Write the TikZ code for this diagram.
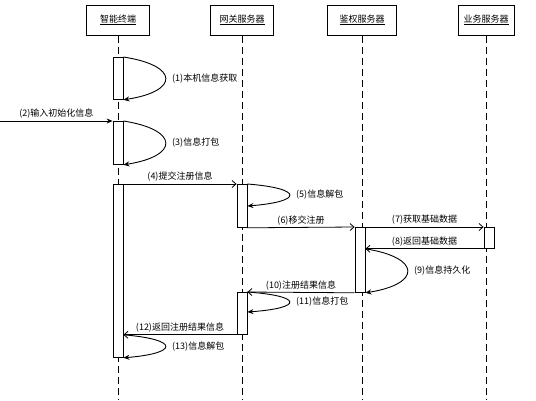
\documentclass[tikz,border=0pt]{standalone}
\usepackage{fontspec}
\setmainfont{Noto Sans CJK SC}
\usetikzlibrary{arrows.meta,calc}

\begin{document}
\begin{tikzpicture}[x=1pt, y=-1pt,
  font=\small,
  head/.style={draw, line width=1pt, minimum width=63pt, minimum height=30pt, inner sep=2pt},
  act/.style={draw, fill=white, line width=0.8pt, minimum width=10pt, inner sep=0pt, anchor=north},
  life/.style={dash pattern=on 7pt off 4pt, line width=0.9pt},
  msg/.style={-{Straight Barb[length=4pt, width=7pt]}, line width=0.8pt},
  self/.style={-{Stealth[length=6pt, width=5pt]}, line width=0.9pt},
  lbl/.style={above=1pt, inner sep=1pt}
]
\useasboundingbox (0,0) rectangle (536,400);
% participants
\node[head] (term) at (118,20) {\underline{智能终端}};
\node[head] (gate) at (242,20) {\underline{网关服务器}};
\node[head, minimum width=69pt] (auth) at (362,20) {\underline{鉴权服务器}};
\node[head, minimum width=56pt] (biz) at (486,20) {\underline{业务服务器}};
\coordinate (bot) at (0,400);
\foreach \p in {term, gate, auth, biz}{\draw[life] (\p.south) -- (\p.south |- bot);}
% activations
\node[act, minimum height=42pt] (t1) at (118,57) {};
\node[act, minimum height=43pt] (t2) at (118,121) {};
\node[act, minimum height=173pt] (t3) at (118,184) {};
\node[act, minimum height=43pt] (g1) at (242,184) {};
\node[act, minimum height=42pt] (g2) at (242,292) {};
\node[act, minimum height=65pt] (a1) at (360,227) {};
\node[act, minimum height=21pt] (b1) at (489,227) {};
% end points of the self messages
\coordinate (t1s) at (t1.south east);
\coordinate (t2s) at (t2.south east);
\coordinate (g1s) at ([yshift=-22pt]g1.north east);
\coordinate (a1s) at (b1.south west -| a1.east);
\coordinate (g2s) at ([yshift=-20pt]g2.north east);
\coordinate (t3s) at (g2.south west -| t3.east);
% messages
\coordinate (ext) at (0,121);
\draw[self] (ext) -- (t2.north west) node[midway, lbl] {(2)输入初始化信息};
\draw[msg] (t3.north east) -- (g1.north west) node[midway, lbl] {(4)提交注册信息};
\draw[msg] (g1.south east) -- (a1.north west) node[midway, lbl] {(6)移交注册};
\draw[msg] (a1.north east) -- (b1.north west) node[midway, lbl] {(7)获取基础数据};
\draw[msg] (b1.south west) -- (a1s) node[midway, lbl] {(8)返回基础数据};
\draw[msg] (a1.south west) -- (g2.north east) node[midway, lbl] {(10)注册结果信息};
\draw[msg] (g2.south west) -- (t3s) node[midway, lbl] {(12)返回注册结果信息};
% self messages
\foreach \a/\b/\t in {t1.north east/t1s/(1)本机信息获取, t2.north east/t2s/(3)信息打包,
    g1.north east/g1s/(5)信息解包, a1s/a1.south east/(9)信息持久化,
    g2.north east/g2s/(11)信息打包, t3s/t3.south east/(13)信息解包}{
  \draw[self] (\a) .. controls ($(\a)!0.2!(\b)+(56,0)$) and ($(\a)!0.8!(\b)+(56,0)$) .. (\b)
    node[pos=0.5, right=3pt] {\t};
}
\end{tikzpicture}
\end{document}
